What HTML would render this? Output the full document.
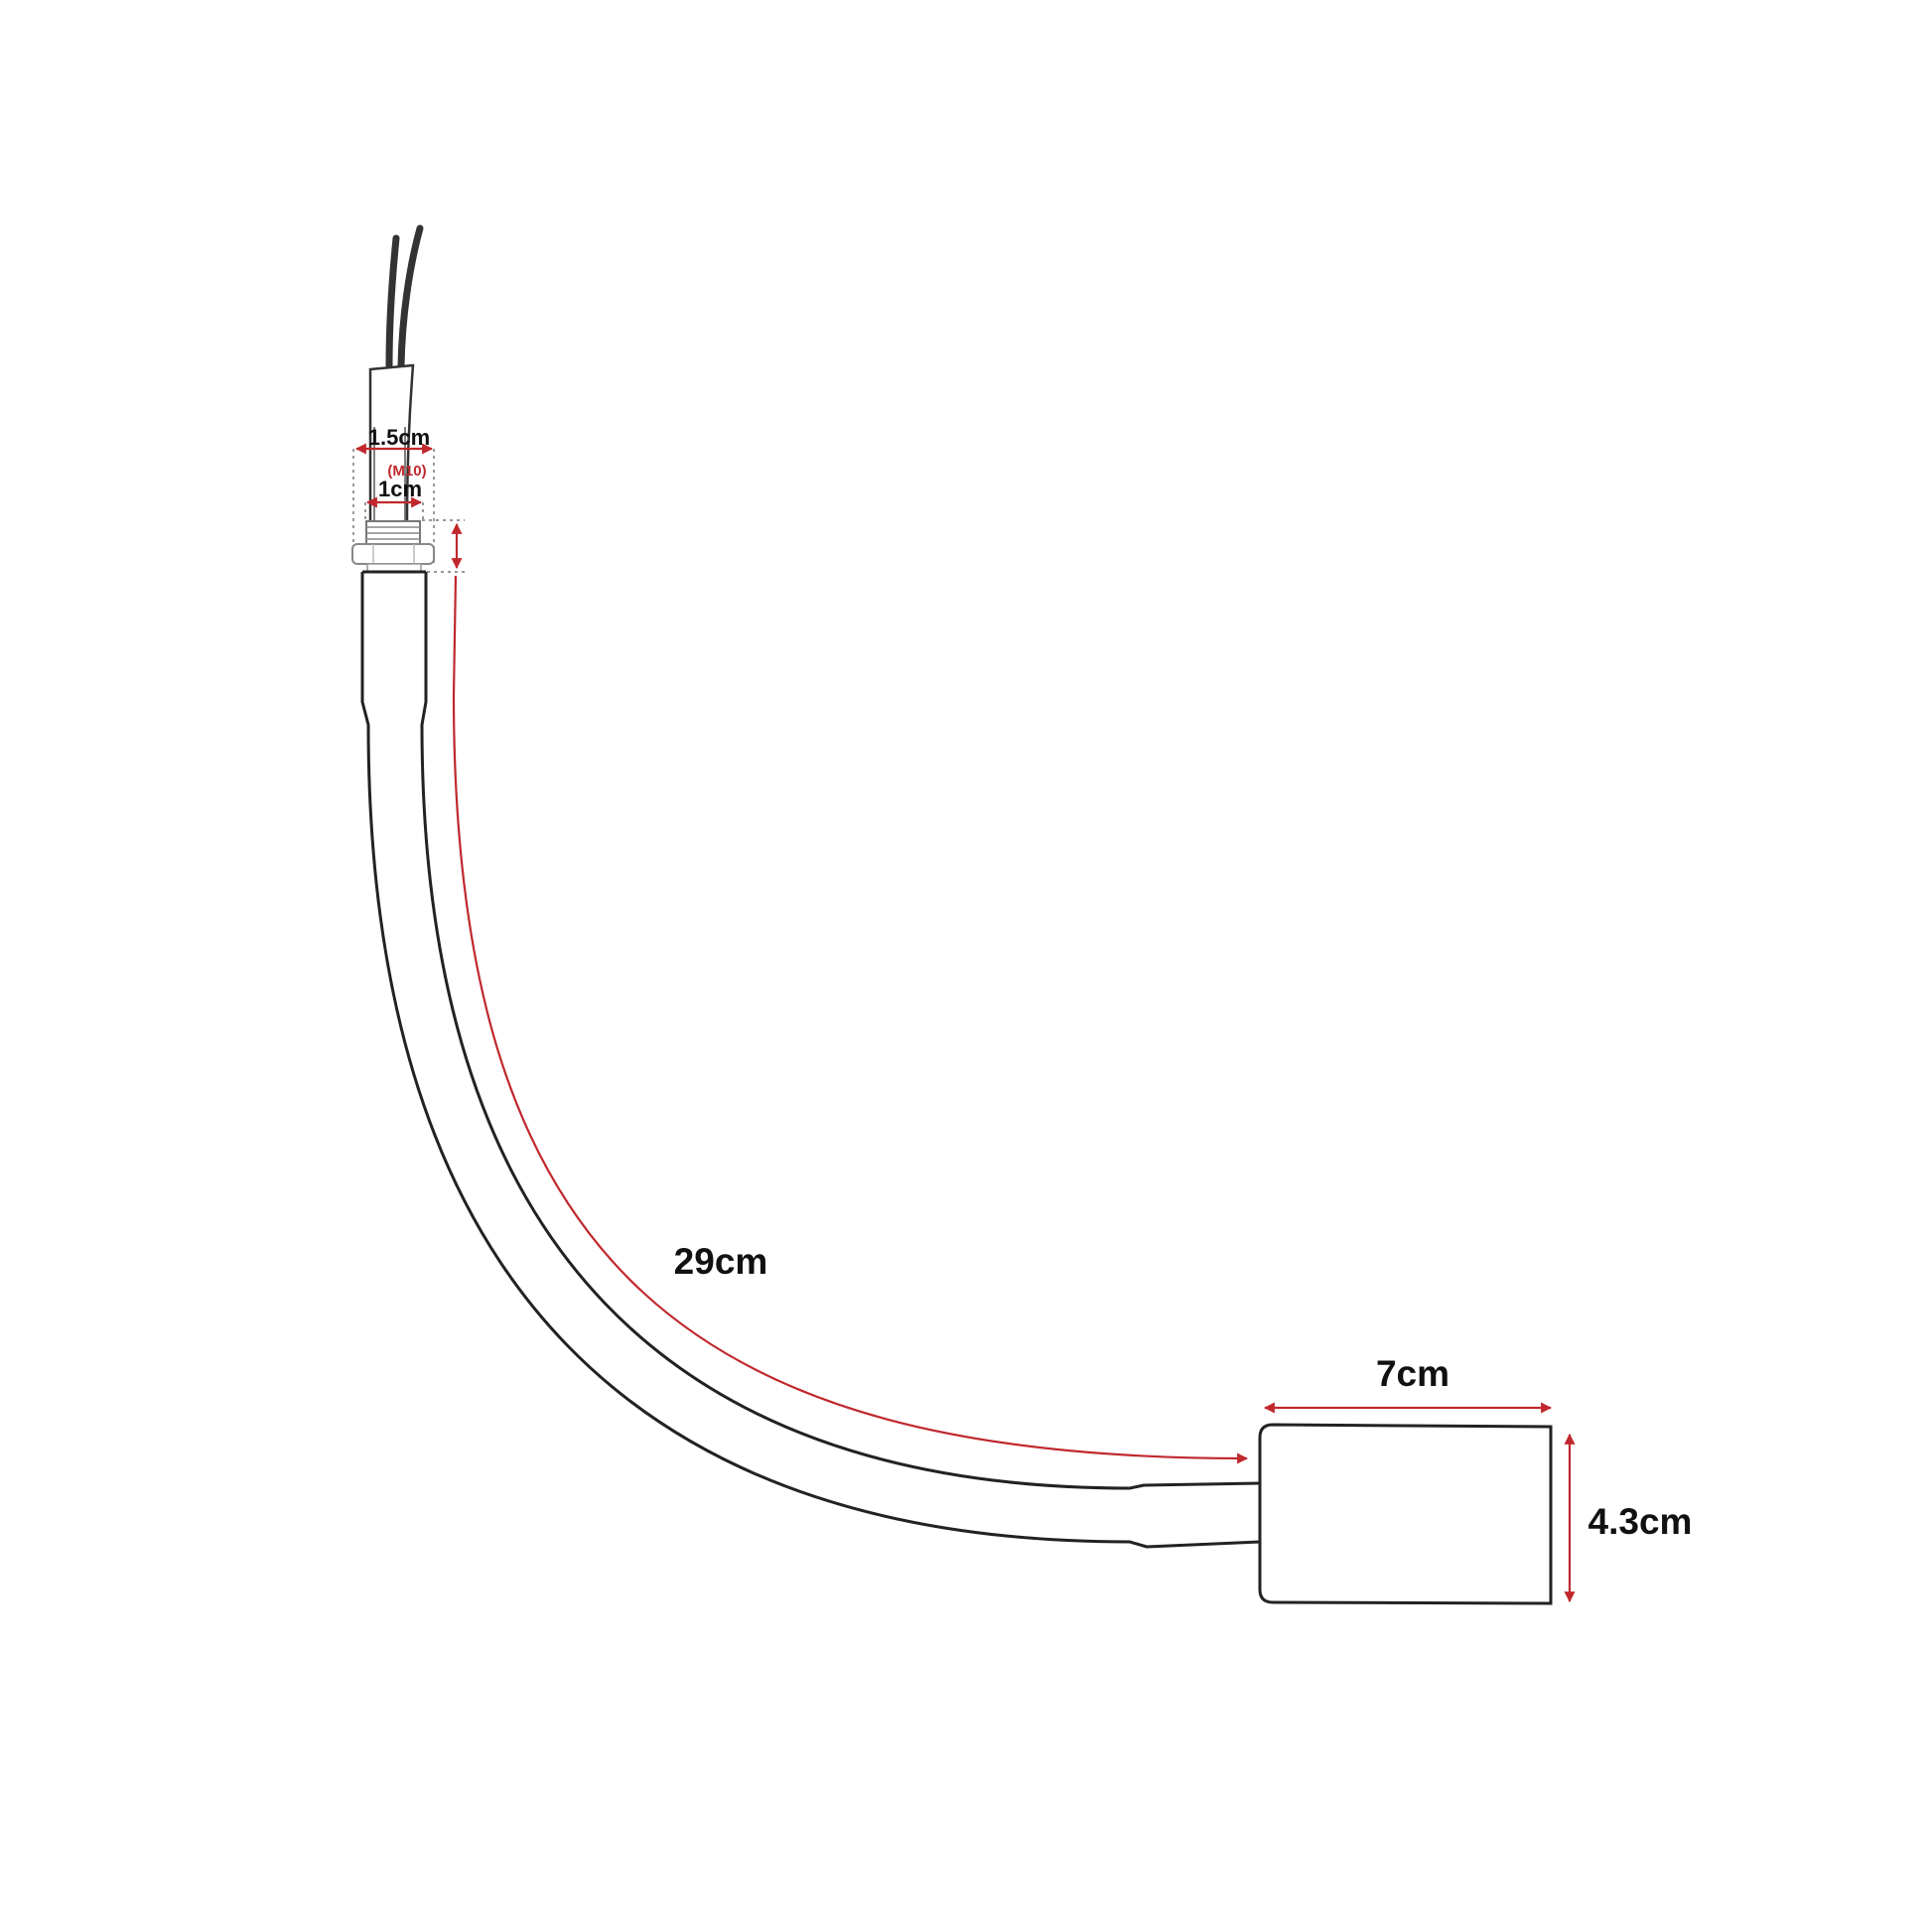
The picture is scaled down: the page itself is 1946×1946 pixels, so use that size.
<!DOCTYPE html>
<html><head><meta charset="utf-8"><style>
html,body{margin:0;padding:0;background:#fff;}
svg{display:block;}
text{font-family:"Liberation Sans",sans-serif;font-weight:bold;}
</style></head><body>
<svg width="1946" height="1946" viewBox="0 0 1946 1946" xmlns="http://www.w3.org/2000/svg">
<defs>
<marker id="ah" viewBox="0 0 10 10" refX="9" refY="5" markerWidth="5" markerHeight="5" orient="auto-start-reverse">
<path d="M0,0 L10,5 L0,10 z" fill="#c0282d"/></marker>
</defs>
<path d="M399,240 C395,280 392,320 392,368" stroke="#333" stroke-width="7" fill="none" stroke-linecap="round"/>
<path d="M423,230 C412,270 405,320 404,368" stroke="#333" stroke-width="7" fill="none" stroke-linecap="round"/>
<path d="M373,525 L373,372 L416,368 C412,420 410,470 410,525" stroke="#333" stroke-width="2.5" fill="#fff"/>
<line x1="377" y1="430" x2="377" y2="525" stroke="#555" stroke-width="1.5"/>
<line x1="408" y1="430" x2="408" y2="525" stroke="#555" stroke-width="1.5"/>
<g stroke="#999" stroke-width="2" stroke-dasharray="3,4" fill="none">
<line x1="356" y1="452" x2="356" y2="570"/>
<line x1="437" y1="452" x2="437" y2="570"/>
<line x1="368" y1="506" x2="368" y2="525"/>
<line x1="426" y1="506" x2="426" y2="525"/>
<line x1="425" y1="524" x2="468" y2="524"/>
<line x1="430" y1="576" x2="472" y2="576"/>
</g>
<rect x="369" y="525" width="54" height="23" fill="#fff" stroke="#777" stroke-width="2"/>
<g stroke="#888" stroke-width="1.5"><line x1="369" y1="531" x2="423" y2="531"/><line x1="369" y1="537" x2="423" y2="537"/><line x1="369" y1="543" x2="423" y2="543"/></g>
<rect x="355" y="548" width="82" height="20" rx="5" fill="#fff" stroke="#888" stroke-width="2"/>
<line x1="376" y1="548" x2="376" y2="568" stroke="#bbb" stroke-width="1.5"/>
<line x1="417" y1="548" x2="417" y2="568" stroke="#bbb" stroke-width="1.5"/>
<rect x="370" y="568" width="54" height="8" fill="#fff" stroke="#999" stroke-width="1.5"/>
<g stroke="#222" stroke-width="3" fill="none">
<path d="M365,576 L429,576"/>
<path d="M365,576 L365,707 L371,730 C371,1300 650,1553 1138,1553 L1155,1558 L1269,1553"/>
<path d="M429,576 L429,707 L425,730 C425,1260 680,1499 1138,1499 L1152,1496 L1269,1494"/>
</g>
<path d="M1282,1435 L1562,1437 L1562,1615 L1282,1614 Q1269,1614 1269,1601 L1269,1448 Q1269,1435 1282,1435 Z" fill="#fff" stroke="#222" stroke-width="3"/>
<g stroke="#c0282d" stroke-width="2.2" fill="none">
<line x1="359" y1="452" x2="435" y2="452" marker-start="url(#ah)" marker-end="url(#ah)"/>
<line x1="370" y1="506" x2="424" y2="506" marker-start="url(#ah)" marker-end="url(#ah)"/>
<line x1="460" y1="528" x2="460" y2="572" marker-start="url(#ah)" marker-end="url(#ah)"/>
<path d="M459,580 L457,700 C457,1280 700,1469 1256,1469" marker-end="url(#ah)"/>
<line x1="1274" y1="1418" x2="1562" y2="1418" marker-start="url(#ah)" marker-end="url(#ah)"/>
<line x1="1581" y1="1445" x2="1581" y2="1613" marker-start="url(#ah)" marker-end="url(#ah)"/>
</g>
<text x="402" y="448" font-size="22" text-anchor="middle" fill="#111">1.5cm</text>
<text x="410" y="479" font-size="15" text-anchor="middle" fill="#c0282d" font-weight="normal">(M10)</text>
<text x="403" y="500" font-size="22" text-anchor="middle" fill="#111">1cm</text>
<text x="726" y="1283" font-size="37" text-anchor="middle" fill="#111">29cm</text>
<text x="1423" y="1396" font-size="37" text-anchor="middle" fill="#111">7cm</text>
<text x="1652" y="1545" font-size="37" text-anchor="middle" fill="#111">4.3cm</text>
</svg>
</body></html>
